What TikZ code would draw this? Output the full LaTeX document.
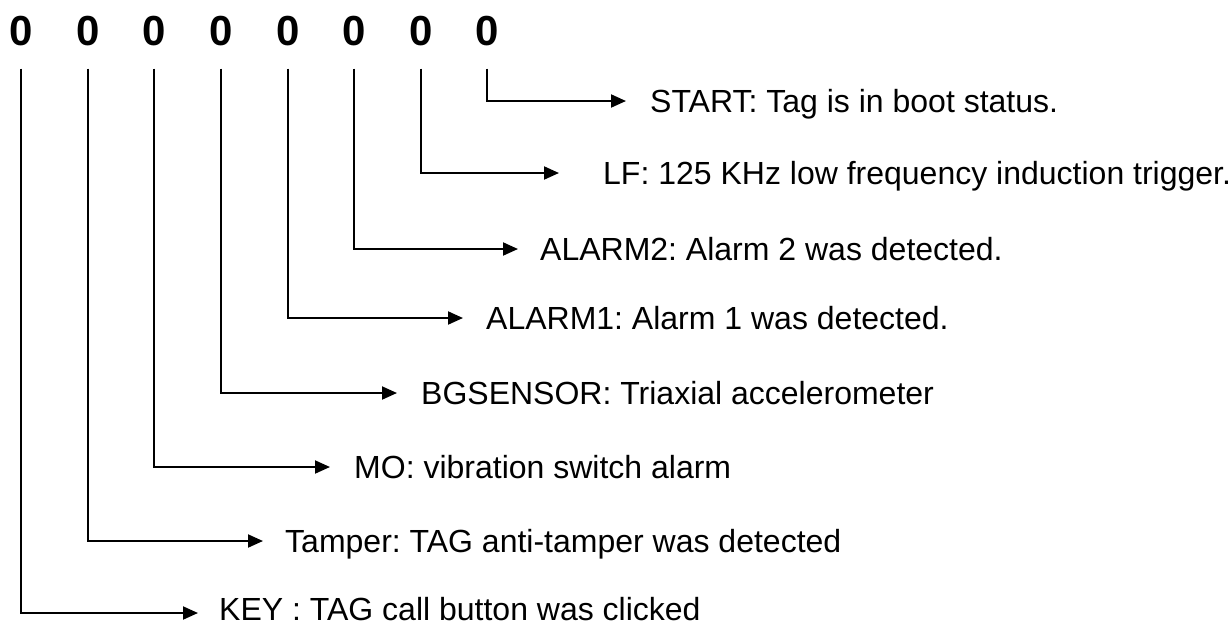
\documentclass[tikz,border=0pt]{standalone}
\usepackage{fontspec}
\setmainfont{Liberation Sans}
\usetikzlibrary{arrows.meta}
\frenchspacing
\begin{document}
\begin{tikzpicture}[x=1pt,y=-1pt,
  digit/.style={font=\fontsize{42}{42}\selectfont\bfseries, inner sep=0pt, anchor=base},
  lbl/.style={font=\fontsize{32}{32}\selectfont, inner sep=0pt, anchor=base west},
  conn/.style={line width=2pt, -{Triangle[length=15pt,width=13pt]}, shorten <=23pt}]
\useasboundingbox (0,0) rectangle (1232,625);
% digits
\node[digit] (d1) at (21,45) {0};
\node[digit] (d2) at (88,45) {0};
\node[digit] (d3) at (154,45) {0};
\node[digit] (d4) at (221,45) {0};
\node[digit] (d5) at (288,45) {0};
\node[digit] (d6) at (354,45) {0};
\node[digit] (d7) at (421,45) {0};
\node[digit] (d8) at (487,45) {0};
% arrow tips
\coordinate (a8) at (626,101);
\coordinate (a7) at (559,173);
\coordinate (a6) at (518,249);
\coordinate (a5) at (463,318);
\coordinate (a4) at (397,393);
\coordinate (a3) at (330,467);
\coordinate (a2) at (263,541);
\coordinate (a1) at (198,613);
% labels
\node[lbl] (t8) at (650,112) {START: Tag is in boot status.};
\node[lbl] (t7) at (603,184) {LF: 125 KHz low frequency induction trigger.};
\node[lbl] (t6) at (540,260) {ALARM2: Alarm 2 was detected.};
\node[lbl] (t5) at (486,329) {ALARM1: Alarm 1 was detected.};
\node[lbl] (t4) at (421,404) {BGSENSOR: Triaxial accelerometer};
\node[lbl] (t3) at (354,478) {MO: vibration switch alarm};
\node[lbl] (t2) at (285,552) {Tamper: TAG anti-tamper was detected};
\node[lbl] (t1) at (219,620) {KEY : TAG call button was clicked};
% connectors
\draw[conn] (d8.south) |- (a8);
\draw[conn] (d7.south) |- (a7);
\draw[conn] (d6.south) |- (a6);
\draw[conn] (d5.south) |- (a5);
\draw[conn] (d4.south) |- (a4);
\draw[conn] (d3.south) |- (a3);
\draw[conn] (d2.south) |- (a2);
\draw[conn] (d1.south) |- (a1);
\end{tikzpicture}
\end{document}
